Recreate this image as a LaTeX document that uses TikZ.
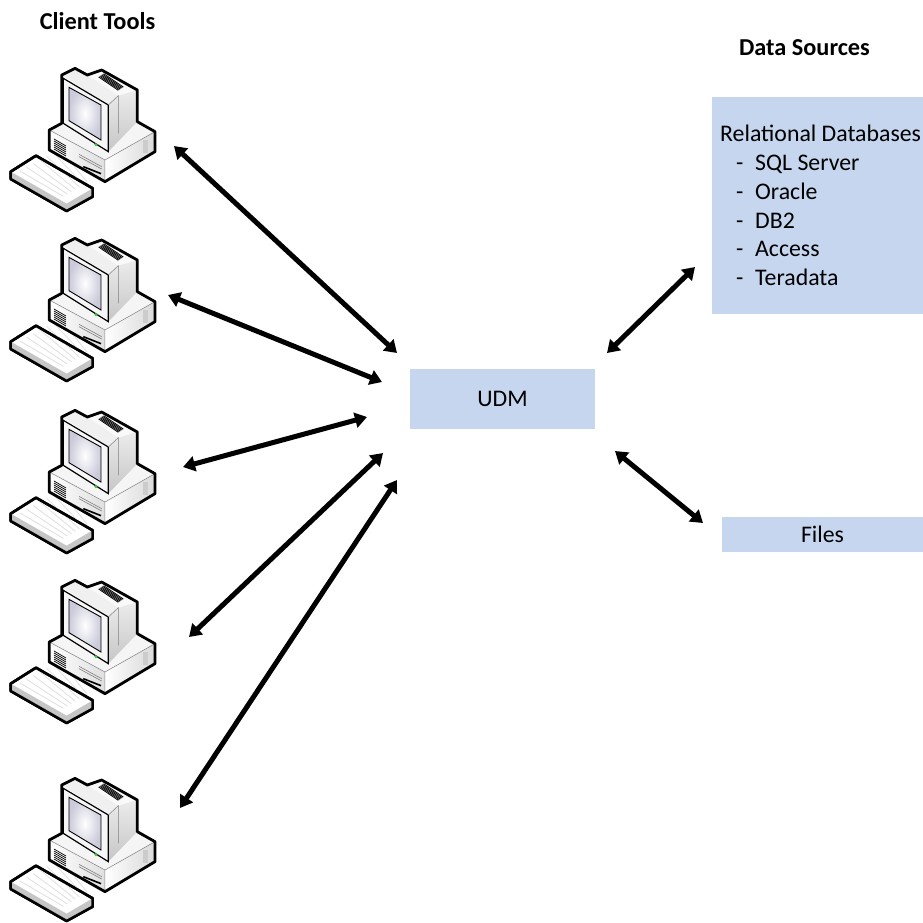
\documentclass[tikz,border=0pt]{standalone}
\usepackage{fontspec}
\setmainfont{Carlito}
\usetikzlibrary{positioning,arrows.meta}
\definecolor{boxblue}{HTML}{C5D6EE}
\tikzset{
  box/.style={fill=boxblue,draw=none,inner sep=0pt,minimum height=#1},
  link/.style={{Triangle[length=12pt,width=15pt]}-{Triangle[length=12pt,width=15pt]},line width=5pt,black},
  outline/.style={line width=1.5pt,line join=round,black},
  head/.style={font=\fontsize{24.3}{28}\selectfont\bfseries,inner sep=0pt},
  dbline/.style={anchor=base west,inner sep=0pt},
  computer/.pic={
    % zoomed pixels of the icon, divided by 3
    \begin{scope}[x=.3333pt,y=-.3333pt]
      % keyboard
      \draw[outline,line width=2.6pt,fill=white] (32,350) -- (108,302) -- (278,400) -- (278,425) -- (200,468) -- (32,372) -- cycle;
      \fill[gray!45] (32,350) -- (200,446) -- (278,400) -- (278,425) -- (200,468) -- (32,372) -- cycle;
      \foreach \i in {0,...,6}
        \draw[gray!25,line width=.8pt] ({60+\i*20},{348-\i*11}) -- ({190+\i*12},{424-\i*7});
      \draw[outline,line width=2.6pt] (32,350) -- (108,302) -- (278,400) -- (278,425) -- (200,468) -- (32,372) -- cycle;
      % base unit
      \fill[white!92!gray] (148,225) -- (190,205) -- (325,290) -- (412,200) -- (465,230) -- (315,315) -- cycle;
      \shade[left color=white,right color=gray!25] (148,225) -- (315,315) -- (315,380) -- (148,285) -- cycle;
      \shade[left color=white,right color=gray!30] (315,315) -- (465,230) -- (465,290) -- (315,380) -- cycle;
      \draw[gray,line width=.5pt] (148,225) -- (315,315) -- (465,230) (315,315) -- (315,380);
      \foreach \i in {0,...,5}
        \draw[black,line width=.7pt] (162,{252+\i*6}) -- (198,{273+\i*6});
      \draw[gray,line width=.6pt] (237,298) -- (305,335) (237,305) -- (305,342);
      \draw[black,line width=1.6pt] (250,335) -- (303,356);
      \fill[gray!40] (428,255) rectangle (445,295);
      % monitor
      \fill[white!88!gray] (185,60) -- (225,45) -- (262,60) -- (305,45) -- (355,122) -- (325,150) -- cycle;
      \fill[white!95!gray] (262,60) -- (305,45) -- (412,105) -- (355,122) -- cycle;
      \shade[top color=gray!15,bottom color=gray!45] (325,150) -- (355,122) -- (412,105) -- (412,200) -- (325,290) -- cycle;
      \fill[white!93!gray] (190,70) -- (325,150) -- (325,290) -- (190,205) -- cycle;
      \shade[inner color=white,outer color=blue!18!gray!35] (207,97) -- (303,150) -- (303,255) -- (207,197) -- cycle;
      \draw[black,line width=.9pt] (207,97) -- (303,150) -- (303,255) -- (207,197) -- cycle;
      \draw[black,line width=1.2pt] (190,70) -- (325,150) -- (325,290) -- (190,205) -- cycle;
      \draw[gray,line width=.5pt] (325,150) -- (355,122) -- (355,235);
      \foreach \i in {0,...,5}
        \draw[black,line width=.8pt] ({296+\i*3},{66-\i*2}) -- ({355+\i*3},{106-\i*2});
      \fill[green!55!gray] (288,269) circle (5);
      % outer line
      \draw[outline,line width=2.8pt] (185,60) -- (225,40) -- (262,60) -- (305,45) -- (412,105) -- (412,200) -- (465,230) -- (465,290) -- (315,380) -- (148,285) -- (148,225) -- (185,205) -- cycle;
    \end{scope}
  }
}
\begin{document}
\begin{tikzpicture}[x=1pt,y=-1pt,font=\fontsize{23.8}{28}\selectfont]
  \useasboundingbox (0,0) rectangle (923,922);
  % client tools
  \node[head] (clienthead) at (97.5,21) {Client Tools};
  \pic at (0,55) {computer};
  \pic at (0,225) {computer};
  \pic at (0,397) {computer};
  \pic at (0,567) {computer};
  \pic at (0,765) {computer};
  \coordinate (pcA) at (174,146);
  \coordinate (pcB) at (168,295);
  \coordinate (pcC) at (183,467);
  \coordinate (pcD) at (189,637);
  \coordinate (pcE) at (180,808);
  % udm
  \node[box=60pt,minimum width=185pt] (udm) at (502.5,399) {UDM};
  \coordinate (udmA) at (397,353);
  \coordinate (udmB) at (382,382);
  \coordinate (udmC) at (367,417);
  \coordinate (udmD) at (383,453);
  \coordinate (udmE) at (397,480);
  \coordinate (udmF) at (607,353);
  \coordinate (udmG) at (615,451);
  % data sources
  \node[head] (datahead) at (804.5,48) {Data Sources};
  \node[box=217pt,minimum width=211pt] (relbox) at (817.5,205.5) {};
  \node[dbline] (rellabel) at (720,141) {Relational Databases};
  \foreach \y/\name in {170/SQL Server,199/Oracle,228/DB2,256/Access,285/Teradata}{
    \node[dbline] at (736,\y) {-};
    \node[dbline] at (755,\y) {\name};
  }
  \node[box=35pt,minimum width=201pt] (files) at (822.5,534.5) {Files};
  \coordinate (relend) at (695,267);
  \coordinate (fileend) at (703,523);
  % arrows
  \draw[link] (pcA) -- (udmA);
  \draw[link] (pcB) -- (udmB);
  \draw[link] (pcC) -- (udmC);
  \draw[link] (pcD) -- (udmD);
  \draw[link] (pcE) -- (udmE);
  \draw[link] (udmF) -- (relend);
  \draw[link] (udmG) -- (fileend);
\end{tikzpicture}
\end{document}
